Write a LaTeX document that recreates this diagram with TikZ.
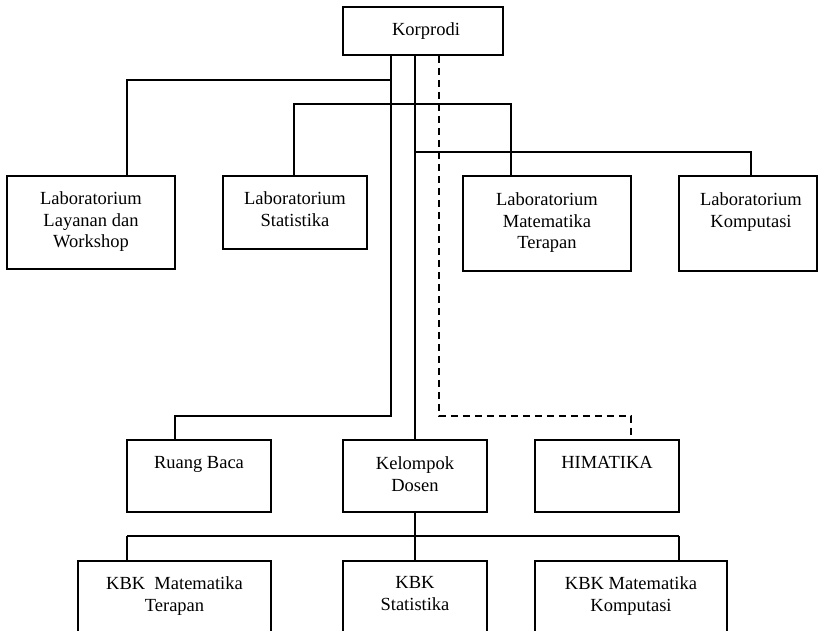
\documentclass[tikz,border=0pt]{standalone}
\usepackage{fontspec}
\setmainfont{Liberation Serif}
\begin{document}
\begin{tikzpicture}[x=1pt,y=-1pt,
  box/.style={draw,line width=1.5pt,inner sep=0pt,minimum width=#1},
  lbl/.style={anchor=north,inner sep=0pt,align=center,font=\fontsize{18.5}{21.5}\selectfont},
  conn/.style={line width=1.5pt},
  dconn/.style={line width=1.5pt,dash pattern=on 7pt off 5pt}]
\useasboundingbox (0,0) rectangle (819,630);
\clip (0,0) rectangle (819,630);
% boxes
\node[box=160pt,minimum height=48pt] (kor) at (423,31) {};
\node[lbl,anchor=center] (korT) at (426,31) {Korprodi};
\node[box=168pt,minimum height=93pt] (lay) at (91,222.5) {};
\node[lbl] (layT) at (91,191.5) {Laboratorium\\Layanan dan\\Workshop};
\node[box=144pt,minimum height=73pt] (sta) at (295,212.5) {};
\node[lbl] (staT) at (295,191.5) {Laboratorium\\Statistika};
\node[box=168pt,minimum height=95pt] (mat) at (547,223.5) {};
\node[lbl] (matT) at (547,192.5) {Laboratorium\\Matematika\\Terapan};
\node[box=138pt,minimum height=95pt] (kom) at (748,223.5) {};
\node[lbl] (komT) at (751,192.5) {Laboratorium\\Komputasi};
\node[box=144pt,minimum height=72pt] (rb) at (199,476) {};
\node[lbl] (rbT) at (199,456.5) {Ruang Baca};
\node[box=144pt,minimum height=72pt] (kd) at (415,476) {};
\node[lbl] (kdT) at (415,456.5) {Kelompok\\Dosen};
\node[box=144pt,minimum height=72pt] (hi) at (607,476) {};
\node[lbl] (hiT) at (607,456.5) {HIMATIKA};
\node[box=193pt,minimum height=90pt] (k1) at (174.5,606) {};
\node[lbl] (k1T) at (174.5,576.5) {KBK\ \ Matematika\\Terapan};
\node[box=144pt,minimum height=90pt] (k2) at (415,606) {};
\node[lbl] (k2T) at (415,576.5) {KBK\\Statistika};
\node[box=192pt,minimum height=90pt] (k3) at (631,606) {};
\node[lbl] (k3T) at (631,576.5) {KBK Matematika\\Komputasi};
% junction coordinates
\coordinate (ja) at (391,80);
\coordinate (jb) at (127,80);
\coordinate (jc) at (294,104);
\coordinate (jd) at (511,104);
\coordinate (je) at (415,152);
\coordinate (jf) at (751,152);
\coordinate (jg) at (391,416);
\coordinate (jh) at (175,416);
\coordinate (ji) at (439,416);
\coordinate (jj) at (631,416);
\coordinate (jk) at (415,536);
\coordinate (jl) at (127,536);
\coordinate (jm) at (679,536);
% connectors
\draw[conn] (kor.south -| ja) -- (jg) -- (jh) -- (rb.north -| jh);
\draw[conn] (ja) -- (jb) -- (lay.north -| jb);
\draw[conn] (sta.north -| jc) -- (jc) -- (jd) -- (mat.north -| jd);
\draw[conn] (kor.south -| je) -- (kd.north -| je);
\draw[conn] (je) -- (jf) -- (kom.north -| jf);
\draw[dconn] (kor.south -| ji) -- (ji) -- (jj) -- (hi.north -| jj);
\draw[conn] (kd.south -| jk) -- (jk);
\draw[conn] (jl) -- (jm);
\draw[conn] (jl) -- (k1.north -| jl);
\draw[conn] (jk) -- (k2.north -| jk);
\draw[conn] (jm) -- (k3.north -| jm);
\end{tikzpicture}
\end{document}
